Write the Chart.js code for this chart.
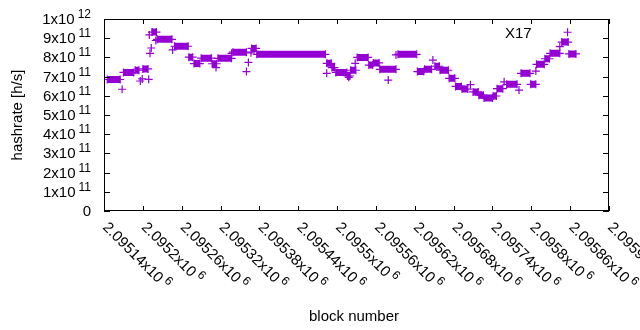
<!DOCTYPE html>
<html>
<head>
<meta charset="utf-8">
<script src="https://cdn.jsdelivr.net/npm/chart.js@4/dist/chart.umd.min.js"></script>
<style>
  html, body { margin: 0; background: #fff; }
  canvas { display: block; }
</style>
</head>
<body>
<canvas id="chart" width="640" height="330"></canvas>
<script>
// runs of blocks with the same hashrate (hashrate in units of 1e11 h/s)
const runStart = [2095145, 2095170, 2095188, 2095200, 2095214, 2095222, 2095249, 2095271, 2095279, 2095290,
  2095307, 2095316, 2095339, 2095368, 2095376, 2095484, 2095492, 2095498, 2095516, 2095521,
  2095531, 2095549, 2095556, 2095566, 2095594, 2095624, 2095635, 2095651, 2095659, 2095673,
  2095683, 2095693, 2095710, 2095719, 2095727, 2095741, 2095747, 2095762, 2095784, 2095799,
  2095808, 2095821, 2095829, 2095847, 2095858];
const runEnd = [2095165, 2095186, 2095194, 2095208, 2095221, 2095245, 2095270, 2095277, 2095288, 2095306,
  2095314, 2095337, 2095360, 2095375, 2095482, 2095491, 2095496, 2095515, 2095520, 2095529,
  2095548, 2095555, 2095565, 2095591, 2095623, 2095634, 2095646, 2095658, 2095672, 2095682,
  2095692, 2095702, 2095718, 2095726, 2095740, 2095746, 2095756, 2095778, 2095798, 2095807,
  2095820, 2095828, 2095844, 2095857, 2095869];
const runHash = [6.85, 7.22, 7.33, 7.40, 9.32, 8.94, 8.58, 8.01, 7.68, 7.96,
  7.67, 7.95, 8.27, 8.47, 8.16, 7.69, 7.47, 7.22, 7.03, 7.33,
  8.00, 7.60, 7.71, 7.38, 8.16, 7.26, 7.38, 7.54, 7.33, 6.91,
  6.49, 6.35, 6.20, 6.03, 5.89, 5.99, 6.37, 6.60, 7.17, 6.60,
  7.64, 7.93, 8.21, 8.80, 8.18];

// isolated blocks
const singleBlock = [2095168, 2095196, 2095199, 2095209, 2095210, 2095211, 2095213, 2095220, 2095246, 2095313,
  2095337, 2095360, 2095363, 2095367, 2095484, 2095518, 2095528, 2095579, 2095591, 2095648,
  2095706, 2095758, 2095781, 2095807, 2095844, 2095856];
const singleHash = [6.34, 6.77, 6.88, 6.86, 9.17, 8.21, 8.49, 8.88, 8.39, 7.47,
  8.21, 7.26, 7.74, 8.24, 7.17, 6.96, 7.69, 6.82, 8.13, 7.86,
  6.58, 6.73, 6.30, 7.29, 8.56, 9.31];

const xTickBlocks = [2095140, 2095200, 2095260, 2095320, 2095380, 2095440, 2095500,
  2095560, 2095620, 2095680, 2095740, 2095800, 2095860, 2095920];
const xTickText = ["2.09514", "2.0952", "2.09526", "2.09532", "2.09538", "2.09544", "2.0955",
  "2.09556", "2.09562", "2.09568", "2.09574", "2.0958", "2.09586", "2.09592"];
const yTickValues = [0, 1e11, 2e11, 3e11, 4e11, 5e11, 6e11, 7e11, 8e11, 9e11, 1e12];
const yTickText = ["0", "1x10", "2x10", "3x10", "4x10", "5x10", "6x10", "7x10", "8x10", "9x10", "1x10"];
const yTickExp = ["", "11", "11", "11", "11", "11", "11", "11", "11", "11", "12"];

const COLOR = "#9400d3";
const FONT = "'Liberation Sans', Arial, sans-serif";

const runPoints = [];
for (let i = 0; i < runStart.length; i++) {
  runPoints.push({ x: runStart[i], y: runHash[i] * 1e11 });
  runPoints.push({ x: runEnd[i], y: runHash[i] * 1e11 });
  runPoints.push({ x: runEnd[i], y: null });
}
const singlePoints = singleBlock.map((b, i) => ({ x: b, y: singleHash[i] * 1e11 }));

// gnuplot style frame, tics and labels
const gnuplotFrame = {
  id: "gnuplotFrame",
  afterDraw(chart) {
    const { ctx, chartArea: a } = chart;
    const xs = chart.scales.x;
    const ys = chart.scales.y;
    ctx.save();
    ctx.strokeStyle = "#000";
    ctx.lineWidth = 1;
    ctx.strokeRect(a.left + 0.5, a.top + 0.5, a.right - a.left - 1, a.bottom - a.top - 1);

    ctx.beginPath();
    xTickBlocks.forEach((v) => {
      const px = Math.round(xs.getPixelForValue(v)) + 0.5;
      ctx.moveTo(px, a.bottom);
      ctx.lineTo(px, a.bottom - 5);
      ctx.moveTo(px, a.top);
      ctx.lineTo(px, a.top + 5);
    });
    yTickValues.forEach((v) => {
      const py = Math.round(ys.getPixelForValue(v)) + 0.5;
      ctx.moveTo(a.left, py);
      ctx.lineTo(a.left + 6, py);
      ctx.moveTo(a.right, py);
      ctx.lineTo(a.right - 6, py);
    });
    ctx.stroke();

    ctx.fillStyle = "#000";
    ctx.textBaseline = "alphabetic";

    // y tick labels
    yTickValues.forEach((v, i) => {
      const py = ys.getPixelForValue(v);
      ctx.font = "12px " + FONT;
      const ew = yTickExp[i] ? ctx.measureText(yTickExp[i]).width + 3 : 0;
      const right = 91;
      if (yTickExp[i]) {
        ctx.textAlign = "right";
        ctx.fillText(yTickExp[i], right, py - 1);
      }
      ctx.font = "15px " + FONT;
      ctx.textAlign = "right";
      ctx.fillText(yTickText[i], right - ew, py + 5);
    });

    // x tick labels, rotated
    xTickBlocks.forEach((v, i) => {
      const px = xs.getPixelForValue(v);
      ctx.save();
      ctx.translate(px - 2, a.bottom + 17);
      ctx.rotate(Math.PI / 4);
      ctx.textAlign = "left";
      ctx.font = "15px " + FONT;
      const label = xTickText[i] + "x10";
      ctx.fillText(label, 0, 0);
      const w = ctx.measureText(label).width;
      ctx.font = "12px " + FONT;
      ctx.fillText("6", w + 3, -6);
      ctx.restore();
    });

    // axis titles
    ctx.font = "15px " + FONT;
    ctx.textAlign = "center";
    ctx.fillText("block number", 354, 321);
    ctx.save();
    ctx.translate(22, 115);
    ctx.rotate(-Math.PI / 2);
    ctx.fillText("hashrate [h/s]", 0, 0);
    ctx.restore();

    // key title
    ctx.textAlign = "left";
    ctx.fillText("X17", 505, 38);
    ctx.restore();
  }
};

new Chart(document.getElementById("chart"), {
  type: "scatter",
  data: {
    datasets: [
      {
        label: "X17",
        data: runPoints,
        showLine: true,
        spanGaps: false,
        borderColor: COLOR,
        backgroundColor: COLOR,
        borderWidth: 7,
        borderCapStyle: "butt",
        pointStyle: "cross",
        pointRadius: 4,
        pointBorderWidth: 1.2,
        pointBorderColor: COLOR,
      },
      {
        label: "X17 single",
        data: singlePoints,
        showLine: false,
        borderColor: COLOR,
        backgroundColor: COLOR,
        pointStyle: "cross",
        pointRadius: 4,
        pointBorderWidth: 1.2,
      },
    ],
  },
  options: {
    responsive: false,
    animation: false,
    layout: { padding: { left: 104, right: 31, top: 19, bottom: 119 } },
    plugins: { legend: { display: false }, tooltip: { enabled: false } },
    scales: {
      x: { type: "linear", display: false, min: 2095140, max: 2095920 },
      y: { type: "linear", display: false, min: 0, max: 1e12 },
    },
  },
  plugins: [gnuplotFrame],
});
</script>
</body>
</html>
